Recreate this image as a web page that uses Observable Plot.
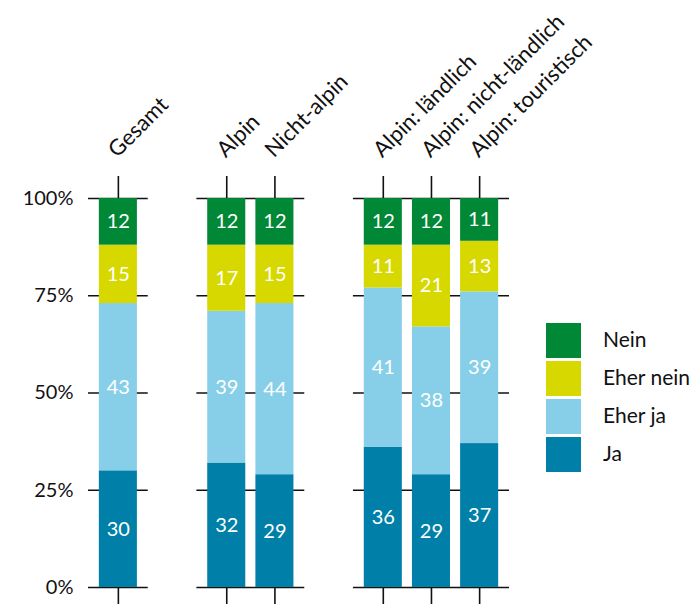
<!DOCTYPE html>
<html><head><meta charset="utf-8">
<script src="https://cdn.jsdelivr.net/npm/d3@7"></script>
<script src="https://cdn.jsdelivr.net/npm/@observablehq/plot@0.6"></script>
<style>
html,body{margin:0;padding:0;background:#fff;overflow:hidden}
#wrap{position:relative;width:700px;height:604px;font-family:Lato,sans-serif}
#wrap svg{position:absolute;left:0;top:0}
#legend{position:absolute;left:546px;top:323px}
.item{display:flex;align-items:center;height:35px;margin-bottom:3px}
.sw{width:35px;height:35px;margin-right:22px;flex:none}
.lab{font-size:21px;color:#111;white-space:nowrap;position:relative;top:-2px}
</style></head><body><div id="wrap"></div>
<script>
// ---- data ----
const groups = [["Gesamt"], ["Alpin", "Nicht-alpin"], ["Alpin: ländlich", "Alpin: nicht-ländlich", "Alpin: touristisch"]];
const answers = ["Ja", "Eher ja", "Eher nein", "Nein"];
const ja       = [30, 32, 29, 36, 29, 37];
const eherJa   = [43, 39, 44, 41, 38, 39];
const eherNein = [15, 17, 15, 11, 21, 13];
const nein     = [12, 12, 12, 12, 12, 11];
const colors   = ["#0080a8", "#87cfe8", "#d6d800", "#008836"];
const yTicks   = [0, 25, 50, 75, 100];

// ---- layout constants ----
const GAP = 1.25;   // extra space between groups (in bar steps)
const HW = 0.395;   // half bar width
const EXT = 0.62;   // half-width of group rule around outer bars

const categories = groups.flat();
const pos = new Map();
let p = 0;
groups.forEach(g => { g.forEach(c => { pos.set(c, p); p += 1; }); p += GAP; });
const lastPos = pos.get(categories[categories.length - 1]);

const series = [ja, eherJa, eherNein, nein];
const rows = [];
categories.forEach((c, i) => {
  answers.forEach((a, j) => rows.push({category: c, pos: pos.get(c), answer: a, value: series[j][i]}));
});

const segs = [];
groups.forEach(g => {
  yTicks.forEach(t => segs.push({x1: pos.get(g[0]) - EXT, x2: pos.get(g[g.length - 1]) + EXT, y: t}));
});

const tickPos = categories.map(c => pos.get(c));

const chart = Plot.plot({
  width: 700, height: 604,
  marginLeft: 88, marginRight: 191, marginTop: 198, marginBottom: 17,
  x: {type: "linear", domain: [-EXT, lastPos + EXT], axis: null},
  y: {domain: [0, 100], axis: null},
  color: {domain: answers, range: colors},
  style: {fontFamily: "Lato, sans-serif", color: "#111", background: "white"},
  marks: [
    Plot.ruleY(segs, {x1: "x1", x2: "x2", y: "y", stroke: "#111", strokeWidth: 1.6}),
    Plot.axisY(yTicks, {tickSize: 0, tickPadding: 15, tickFormat: d => d + "%", fontSize: 20, label: null}),
    Plot.axisX(tickPos, {anchor: "top", tickSize: 23, tickFormat: () => "", label: null, strokeWidth: 1.6, stroke: "#111"}),
    Plot.axisX(tickPos, {anchor: "bottom", tickSize: 20, tickFormat: () => "", label: null, strokeWidth: 1.6, stroke: "#111"}),
    Plot.rectY(rows, Plot.stackY({x: "pos", x1: d => d.pos - HW, x2: d => d.pos + HW, y: "value", fill: "answer"})),
    Plot.text(rows, Plot.stackY({x: "pos", y: "value", text: d => String(d.value), fill: "white", fontSize: 20})),
    Plot.text(categories, {x: c => pos.get(c), frameAnchor: "top", text: d => d, rotate: -45, textAnchor: "start", lineAnchor: "bottom", dx: -1, dy: -40, fontSize: 22, fill: "#111"})
  ]
});
document.getElementById("wrap").appendChild(chart);

const legend = document.createElement("div");
legend.id = "legend";
answers.slice().reverse().forEach(a => {
  const item = document.createElement("div"); item.className = "item";
  const sw = document.createElement("div"); sw.className = "sw"; sw.style.background = colors[answers.indexOf(a)];
  const lab = document.createElement("div"); lab.className = "lab"; lab.textContent = a;
  item.appendChild(sw); item.appendChild(lab); legend.appendChild(item);
});
document.getElementById("wrap").appendChild(legend);
</script></body></html>
